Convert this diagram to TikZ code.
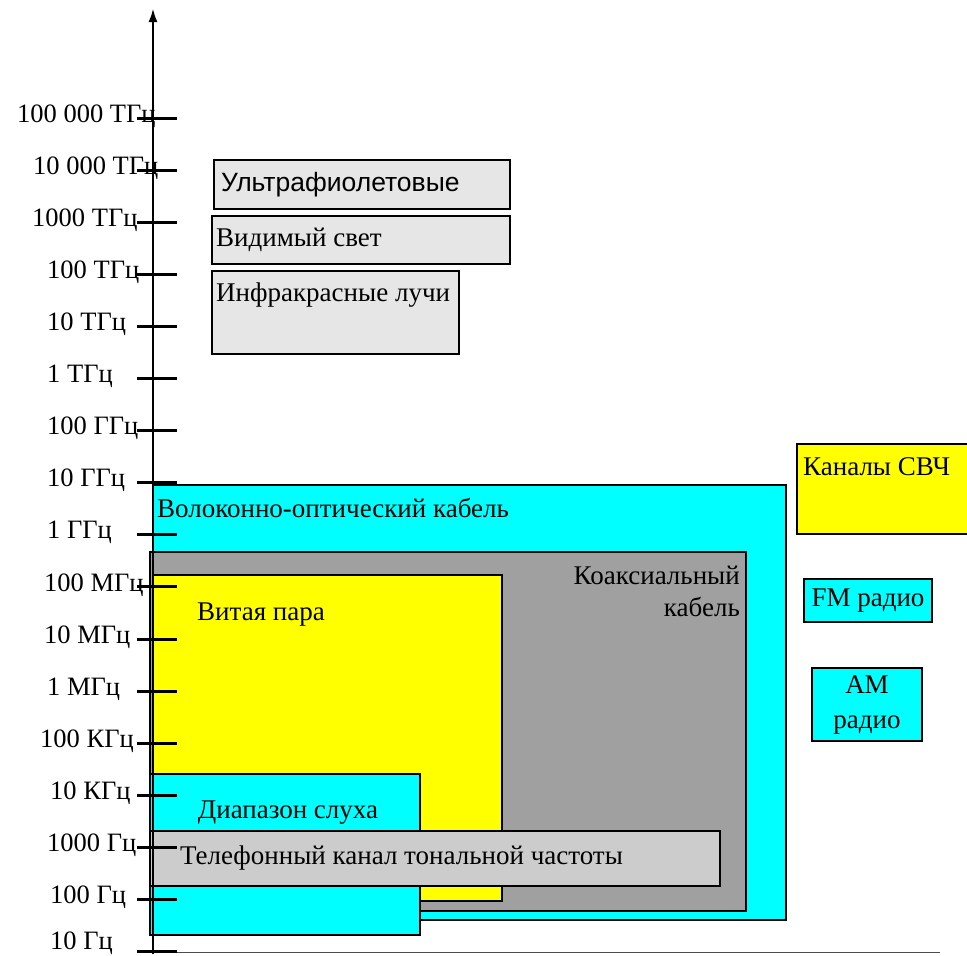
\documentclass[tikz,border=0pt]{standalone}
\usepackage{fontspec}
\setmainfont{Liberation Serif}
\newfontfamily\uvfont{Liberation Sans}
\usepackage{xcolor}
\usetikzlibrary{arrows.meta, positioning, calc}
\definecolor{fibercyan}{RGB}{0, 255, 255}
\definecolor{pairyellow}{RGB}{255, 255, 0}
\definecolor{coaxgray}{RGB}{160, 160, 160}
\definecolor{phonegray}{RGB}{204, 204, 204}
\definecolor{lightgray}{RGB}{230, 230, 230}
\tikzstyle{band} = [rectangle, draw=black, line width=1.6pt, inner sep=0pt, outer sep=0pt, anchor=north west]
\tikzstyle{bandtext} = [inner sep=0pt, font=\fontsize{27}{32}\selectfont]
\tikzstyle{freqlabel} = [inner sep=0pt, anchor=west, font=\fontsize{26.5}{31}\selectfont]
\tikzstyle{tick} = [line width=3pt]

\begin{document}
\begin{tikzpicture}[x=1pt, y=-1pt]
      \useasboundingbox (0,0) rectangle (967,956);

      % cable ranges
      \node[band, fill=fibercyan, minimum width=633pt, minimum height=435pt] (fiber) at (153,485) {};
      \node[bandtext, anchor=west] (fibertxt) at (157,508) {Волоконно-оптический кабель};
      \node[band, fill=coaxgray, minimum width=596pt, minimum height=359pt] (coax) at (150,552) {};
      \node[bandtext, anchor=north east, align=right] (coaxtxt) at (740,566) {Коаксиальный\\кабель};
      \node[band, fill=pairyellow, minimum width=349pt, minimum height=326pt] (pair) at (153,575) {};
      \node[bandtext, anchor=west] (pairtxt) at (197,615) {Витая пара};
      \node[band, fill=fibercyan, minimum width=270pt, minimum height=161pt] (hearing) at (150,774) {};
      \node[bandtext] (hearingtxt) at (288,813) {Диапазон слуха};
      \node[band, fill=phonegray, minimum width=570pt, minimum height=55pt] (phone) at (150,831) {};
      \node[bandtext, anchor=west] (phonetxt) at (180,858) {Телефонный канал тональной частоты};

      % light
      \node[band, fill=lightgray, minimum width=296pt, minimum height=49pt] (uv) at (214,160) {};
      \node[bandtext, anchor=west, font=\uvfont\fontsize{26.5}{31}\selectfont] (uvtxt) at (221,185) {Ультрафиолетовые};
      \node[band, fill=lightgray, minimum width=298pt, minimum height=48pt] (visible) at (212,216) {};
      \node[bandtext, anchor=west] (visibletxt) at (216,240) {Видимый свет};
      \node[band, fill=lightgray, minimum width=247pt, minimum height=83pt] (infrared) at (212,271) {};
      \node[bandtext, anchor=west] (infraredtxt) at (216,295) {Инфракрасные лучи};

      % radio
      \node[band, fill=pairyellow, minimum width=190pt, minimum height=90pt] (microwave) at (797,444) {};
      \node[bandtext, anchor=west] (microwavetxt) at (803,467) {Каналы СВЧ};
      \node[band, fill=fibercyan, minimum width=128pt, minimum height=43pt] (fm) at (804,579) {};
      \node[bandtext] (fmtxt) at (fm.center) {FM радио};
      \node[band, fill=fibercyan, minimum width=110pt, minimum height=73pt, align=center, font=\fontsize{27}{35}\selectfont] (am) at (812,668) {AM\\радио};

      % frequency axis
      \draw[line width=0.8pt, black!70] (153,952) -- (940,952);
      \foreach \lab/\lx [count=\i from 0] in {100 000 ТГц/17, 10 000 ТГц/33, 1000 ТГц/32, 100 ТГц/47, 10 ТГц/47, 1 ТГц/47, 100 ГГц/47, 10 ГГц/47, 1 ГГц/47, 100 МГц/44, 10 МГц/44, 1 МГц/47, 100 КГц/40, 10 КГц/50, 1000 Гц/47, 100 Гц/50, 10 Гц/50}
      {
        \pgfmathsetmacro{\ly}{min(116+\i*52.1,943)}
        \node[freqlabel] (lbl\i) at (\lx,\ly) {\lab};
        \draw[tick] (137,118+\i*52.1) -- (177,118+\i*52.1);
      }
      \draw[line width=2.6pt, -{Latex[length=14pt, width=9pt]}] (153,954) -- (153,8);
    \end{tikzpicture}
\end{document}
